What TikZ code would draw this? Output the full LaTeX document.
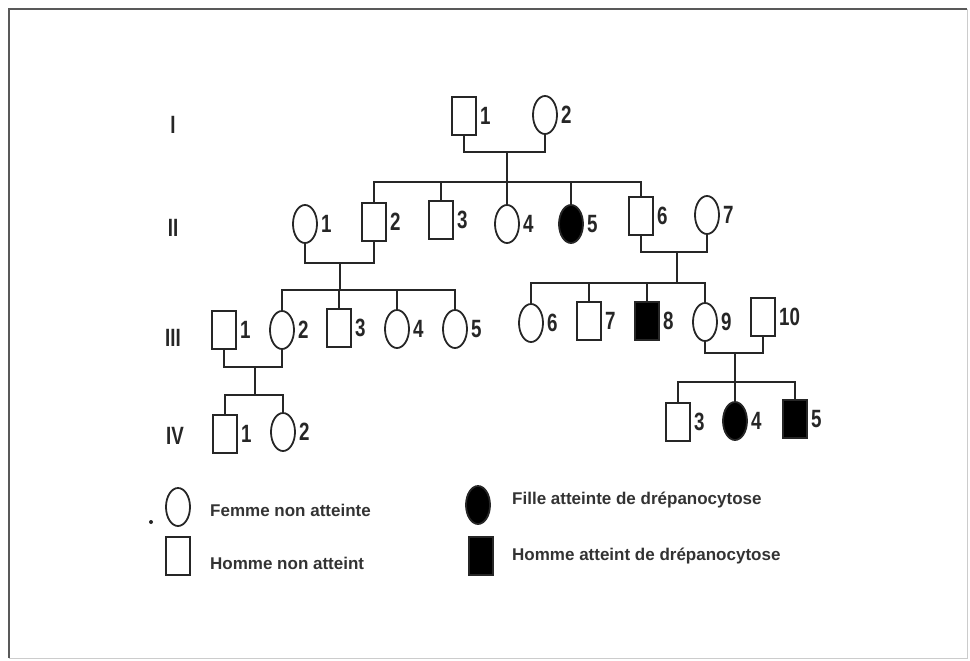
\documentclass[tikz,border=0pt]{standalone}
\usepackage{fontspec}
\setmainfont{Liberation Sans}
\newfontfamily\condfont[FakeStretch=0.75]{Liberation Sans}
\usetikzlibrary{shapes.geometric}
\tikzset{
  male/.style={draw=black!85, rectangle, minimum width=24pt, minimum height=38pt, inner sep=0pt, line width=1.8pt},
  female/.style={draw=black!85, ellipse, minimum width=24pt, minimum height=38pt, inner sep=0pt, line width=1.8pt},
  aff/.style={fill=black},
  lab/.style={font=\condfont\bfseries\fontsize{25}{28}\selectfont, inner sep=1pt, text=black!85},
  gen/.style={font=\condfont\bfseries\fontsize{25}{28}\selectfont, inner sep=0pt, text=black!85},
  legtext/.style={font=\bfseries\fontsize{17}{20}\selectfont, anchor=west, inner sep=0pt, text=black!80},
  pline/.style={draw=black!85, line width=1.9pt},
  every label/.style={lab},
  label distance=2pt
}
\begin{document}
\begin{tikzpicture}[x=1pt,y=-1pt]
\useasboundingbox (0,0) rectangle (970,661);
% frame
\draw[black!65, line width=1.3pt] (9,658) -- (9,9) -- (967,9);
\draw[black!20, line width=0.8pt] (967,9) -- (967,658) -- (9,658);

% generation labels
\node[gen] (gI)   at (173,125) {I};
\node[gen] (gII)  at (173,228) {II};
\node[gen] (gIII) at (173,338) {III};
\node[gen] (gIV)  at (175,436) {IV};

% generation I
\node[male]   (I1) at (464,116) [label=right:1] {};
\node[female] (I2) at (545,115) [label=right:2] {};

% generation II
\node[female]     (II1) at (305,224) [label=right:1] {};
\node[male]       (II2) at (374,222) [label=right:2] {};
\node[male]       (II3) at (441,220) [label=right:3] {};
\node[female]     (II4) at (507,224) [label=right:4] {};
\node[female,aff] (II5) at (571,224) [label=right:5] {};
\node[male]       (II6) at (641,216) [label=right:6] {};
\node[female]     (II7) at (707,215) [label=right:7] {};

% generation III
\node[male]       (III1)  at (224,330) [label=right:1] {};
\node[female]     (III2)  at (282,330) [label=right:2] {};
\node[male]       (III3)  at (339,328) [label=right:3] {};
\node[female]     (III4)  at (397,329) [label=right:4] {};
\node[female]     (III5)  at (455,329) [label=right:5] {};
\node[female]     (III6)  at (531,323) [label=right:6] {};
\node[male]       (III7)  at (589,321) [label=right:7] {};
\node[male,aff]   (III8)  at (647,321) [label=right:8] {};
\node[female]     (III9)  at (705,322) [label=right:9] {};
\node[male]       (III10) at (763,317) [label=right:10] {};

% generation IV
\node[male]       (IV1) at (225,434) [label=right:1] {};
\node[female]     (IV2) at (283,432) [label=right:2] {};
\node[male]       (IV3) at (678,422) [label=right:3] {};
\node[female,aff] (IV4) at (735,421) [label=right:4] {};
\node[male,aff]   (IV5) at (795,419) [label=right:5] {};

% couples and sibships
\coordinate (m1) at (507,152);
\coordinate (s1) at (507,182);
\draw[pline] (I1.south) |- (m1) -| (I2.south);
\draw[pline] (m1) -- (s1);
\draw[pline] (II2.north) |- (II6.north |- s1) -- (II6.north);
\draw[pline] (II3.north) -- (II3.north |- s1);
\draw[pline] (II4.north) -- (II4.north |- s1);
\draw[pline] (II5.north) -- (II5.north |- s1);

\coordinate (m2) at (340,263);
\coordinate (s2) at (340,290);
\draw[pline] (II1.south) |- (m2) -| (II2.south);
\draw[pline] (m2) -- (s2);
\draw[pline] (III2.north) |- (III5.north |- s2) -- (III5.north);
\draw[pline] (III3.north) -- (III3.north |- s2);
\draw[pline] (III4.north) -- (III4.north |- s2);

\coordinate (m3) at (677,252);
\coordinate (s3) at (677,283);
\draw[pline] (II6.south) |- (m3) -| (II7.south);
\draw[pline] (m3) -- (s3);
\draw[pline] (III6.north) |- (III9.north |- s3) -- (III9.north);
\draw[pline] (III7.north) -- (III7.north |- s3);
\draw[pline] (III8.north) -- (III8.north |- s3);

\coordinate (m4) at (255,367);
\coordinate (s4) at (255,395);
\draw[pline] (III1.south) |- (m4) -| (III2.south);
\draw[pline] (m4) -- (s4);
\draw[pline] (IV1.north) |- (IV2.north |- s4) -- (IV2.north);

\coordinate (m5) at (735,353);
\coordinate (s5) at (735,382);
\draw[pline] (III9.south) |- (m5) -| (III10.south);
\draw[pline] (m5) -- (s5);
\draw[pline] (IV3.north) |- (IV5.north |- s5) -- (IV5.north);
\draw[pline] (IV4.north) -- (IV4.north |- s5);

% legend
\node[female] (Lf) at (178,507) {};
\fill[black!85] (151,522) circle (2pt);
\node[legtext] (Lft) at (210,510) {Femme non atteinte};
\node[male] (Lm) at (178,556) {};
\node[legtext] (Lmt) at (210,563) {Homme non atteint};
\node[female,aff] (Laf) at (478,505) {};
\node[legtext] (Laft) at (512,500) {Fille atteinte de drépanocytose};
\node[male,aff] (Lam) at (481,556) {};
\node[legtext] (Lamt) at (512,556) {Homme atteint de drépanocytose};
\end{tikzpicture}
\end{document}
